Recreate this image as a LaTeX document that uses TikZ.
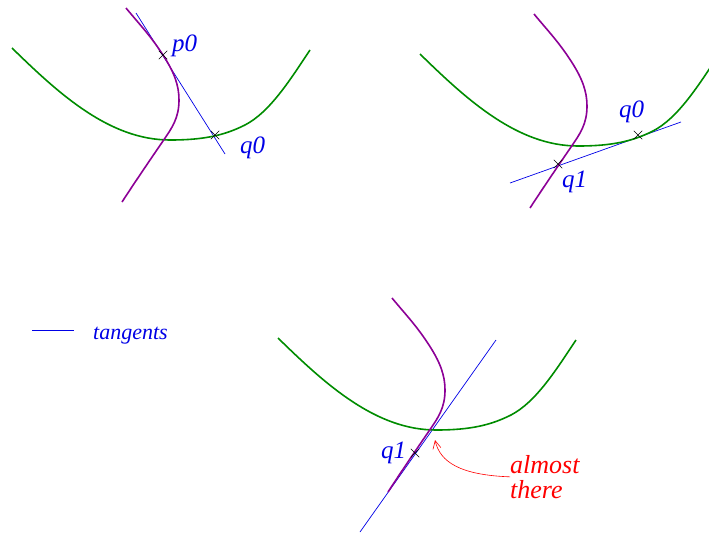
\documentclass[tikz,border=0pt]{standalone}
\usepackage{fontspec}
\setmainfont{Liberation Serif}
\usetikzlibrary{arrows.meta,shapes.misc}
\definecolor{cgreen}{RGB}{0,140,0}
\definecolor{cpurple}{RGB}{140,0,150}
\definecolor{cblue}{RGB}{0,0,230}
\definecolor{cred}{RGB}{255,0,0}
\tikzset{
  greencurve/.style={cgreen,line width=1.6pt},
  purplecurve/.style={cpurple,line width=1.6pt},
  tangent/.style={cblue,line width=0.7pt},
  xmark/.style={cross out,draw=black,line width=0.5pt,minimum size=8pt,inner sep=0pt},
  lbl/.style={cblue,font=\fontsize{25}{25}\selectfont\itshape,inner sep=0pt,anchor=base west},
  note/.style={cred,font=\fontsize{26}{25}\selectfont\itshape,inner sep=0pt,align=left},
  curvepair/.pic={
    \draw[greencurve] (12,48) .. controls (60,95) and (110,140) .. (170,140)
      .. controls (205,140) and (225,135) .. (245,125)
      .. controls (270,112) and (290,80) .. (310,50);
    \draw[purplecurve] (126,8) .. controls (140,25) and (150,35) .. (163,55)
      .. controls (174,72) and (179,85) .. (179,100)
      .. controls (179,118) and (172,128) .. (163,141)
      .. controls (150,160) and (135,182) .. (122,202);
  }
}
\begin{document}
\begin{tikzpicture}[x=1pt,y=-1pt]
\useasboundingbox (0,0) rectangle (709,533);
% panel 1 tangent
\coordinate (t1a) at (136,13);
\coordinate (t1b) at (225,154);
\draw[tangent] (t1a) -- (t1b);
% panel 2 tangent
\coordinate (t2a) at (510,183);
\coordinate (t2b) at (681,122);
\draw[tangent] (t2a) -- (t2b);
% panel 3 tangent
\coordinate (t3a) at (360,532);
\coordinate (t3b) at (496,340);
\draw[tangent] (t3a) -- (t3b);
\begin{scope}
\clip (0,0) rectangle (709,533);
\pic at (0,0) {curvepair};
\pic at (408,6) {curvepair};
\pic at (266,290) {curvepair};
\end{scope}
\node[xmark] (p0) at (163,55) {};
\node[xmark] (q0a) at (215,135) {};
\node[lbl] (lp0) at (172,51) {p0};
\node[lbl] (lq0a) at (240,153) {q0};
\node[xmark] (q0b) at (638,135) {};
\node[xmark] (q1b) at (558,164) {};
\node[lbl] (lq0b) at (619,117) {q0};
\node[lbl] (lq1b) at (562,187) {q1};
\node[xmark] (q1c) at (415,453) {};
\node[lbl] (lq1c) at (381,458) {q1};
\node[note,anchor=north west] (nt) at (510,455) {almost\\there};
\coordinate (tip) at (435,440);
\draw[cred,line width=0.6pt,-{Straight Barb[length=8pt,width=8pt]}] (nt.west) .. controls (460,475) and (440,462) .. (tip);
% legend
\coordinate (la) at (32,330);
\coordinate (lb) at (74,330);
\draw[tangent] (la) -- (lb);
\node[lbl,font=\fontsize{22}{22}\selectfont\itshape] (ltan) at (93,339) {tangents};
\end{tikzpicture}
\end{document}
